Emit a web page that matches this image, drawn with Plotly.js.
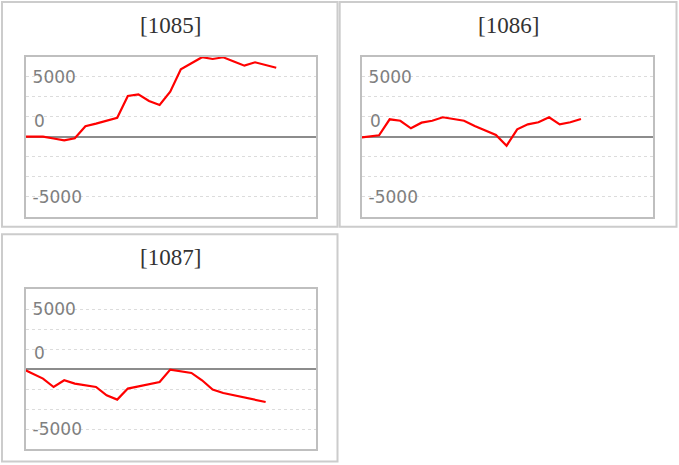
<!DOCTYPE html>
<html>
<head>
<meta charset="utf-8">
<script src="https://cdn.plot.ly/plotly-3.0.1.min.js"></script>
<style>html,body{margin:0;padding:0;background:#fff;}#chart{width:679px;height:465px;}</style>
</head>
<body>
<div id="chart"></div>
<script>
// Panel titles
const panelTitles = ["[1085]", "[1086]", "[1087]"];

// x positions (day index); day 1 has no value
const days1085 = [0, 2, 3, 4, 5, 6, 7, 8, 9, 10, 11, 12, 13, 14, 15, 16, 17, 18, 19, 20, 21, 22, 23, 24];
const days1086 = [0, 2, 3, 4, 5, 6, 7, 8, 9, 10, 11, 12, 13, 14, 15, 16, 17, 18, 19, 20, 21];
const days1087 = [0, 2, 3, 4, 5, 6, 7, 8, 9, 10, 11, 12, 13, 14, 15, 16, 17, 18, 19, 20, 21, 22, 23];

// series values
const values1085 = [0, 0, -150, -300, -130, 870, 1090, 1340, 1580, 3390, 3530, 2975, 2640, 3750, 5620, 6120, 6620, 6475, 6620, 6270, 5920, 6200, 5975, 5750];
const values1086 = [-90, 115, 1450, 1330, 700, 1170, 1330, 1620, 1475, 1330, 890, 515, 140, -750, 615, 1030, 1200, 1620, 1030, 1200, 1475];
const values1087 = [50, -800, -1500, -940, -1220, -1340, -1500, -2190, -2550, -1630, -1440, -1250, -1080, -50, -190, -330, -940, -1720, -2000, -2190, -2380, -2575, -2750];

// y tick labels
const yTickLabels = ["5000", "0", "-5000"];
const yGridStep = 5000 / 3;

const W = 679, H = 465;
const px = v => v / W;
const py = v => 1 - v / H;

const lineStyle = {color: "#ff0000", width: 2.2};
const traces = [
  {x: days1085, y: values1085, xaxis: "x", yaxis: "y"},
  {x: days1086, y: values1086, xaxis: "x2", yaxis: "y2"},
  {x: days1087, y: values1087, xaxis: "x3", yaxis: "y3"}
].map(t => Object.assign(t, {type: "scatter", mode: "lines", line: lineStyle, hoverinfo: "skip", showlegend: false}));

const gridVals = [];
for (let i = -4; i <= 4; i++) gridVals.push(i * yGridStep);
const gridText = gridVals.map(v => Math.abs(v - 5000) < 1 ? yTickLabels[0] : (Math.abs(v + 5000) < 1 ? yTickLabels[2] : ""));

const labelFont = {family: "DejaVu Sans", size: 17, color: "#7f7f7f"};

function xax(domain) {
  return {domain: domain, range: [0.396, 27.75], showgrid: false, zeroline: false,
    showticklabels: false, ticks: "", showline: true, mirror: true, linecolor: "#bfbfbf", linewidth: 2, fixedrange: true};
}
function yax(domain) {
  return {domain: domain, range: [-4 * yGridStep, 4 * yGridStep], tickmode: "array", tickvals: gridVals, ticktext: gridText,
    ticklabelposition: "inside", ticklabelstandoff: 7, ticks: "", showgrid: true, gridcolor: "#dcdcdc", griddash: "dot", gridwidth: 1,
    zeroline: true, zerolinecolor: "#8c8c8c", zerolinewidth: 2,
    showline: true, mirror: true, linecolor: "#bfbfbf", linewidth: 2,
    tickfont: labelFont, fixedrange: true};
}

const xd1 = [px(26), px(316)], xd2 = [px(362), px(652.7)];
const ydTop = [py(216.7), py(56.7)], ydBot = [py(449), py(289)];

const titleFont = {family: "Liberation Serif", size: 23, color: "#333333"};
const annotations = [
  {text: panelTitles[0], x: px(170), y: py(26), xref: "paper", yref: "paper", showarrow: false, font: titleFont, xanchor: "center", yanchor: "middle"},
  {text: panelTitles[1], x: px(508), y: py(26), xref: "paper", yref: "paper", showarrow: false, font: titleFont, xanchor: "center", yanchor: "middle"},
  {text: panelTitles[2], x: px(170), y: py(257), xref: "paper", yref: "paper", showarrow: false, font: titleFont, xanchor: "center", yanchor: "middle"}
];
[["x", "y"], ["x2", "y2"], ["x3", "y3"]].forEach(([xa, ya]) => {
  annotations.push({text: yTickLabels[1], xref: xa + " domain", x: 0, xanchor: "left", xshift: 6,
    yref: ya, y: 0, yanchor: "middle", yshift: 16, showarrow: false, font: labelFont});
});

const boxLine = {color: "#cccccc", width: 2};
const shapes = [
  {type: "rect", xref: "paper", yref: "paper", x0: px(2), x1: px(337.5), y0: py(2), y1: py(226.7), line: boxLine},
  {type: "rect", xref: "paper", yref: "paper", x0: px(339.7), x1: px(676.5), y0: py(2), y1: py(226.7), line: boxLine},
  {type: "rect", xref: "paper", yref: "paper", x0: px(2), x1: px(337.5), y0: py(234.2), y1: py(461.5), line: boxLine}
];

const layout = {
  width: W, height: H, margin: {l: 0, r: 0, t: 0, b: 0},
  paper_bgcolor: "#ffffff", plot_bgcolor: "#ffffff",
  xaxis: Object.assign(xax(xd1), {anchor: "y"}),
  yaxis: Object.assign(yax(ydTop), {anchor: "x"}),
  xaxis2: Object.assign(xax(xd2), {anchor: "y2"}),
  yaxis2: Object.assign(yax(ydTop), {anchor: "x2"}),
  xaxis3: Object.assign(xax(xd1), {anchor: "y3"}),
  yaxis3: Object.assign(yax(ydBot), {anchor: "x3"}),
  annotations: annotations, shapes: shapes, showlegend: false
};

Plotly.newPlot("chart", traces, layout, {displayModeBar: false, staticPlot: true});
</script>
</body>
</html>
